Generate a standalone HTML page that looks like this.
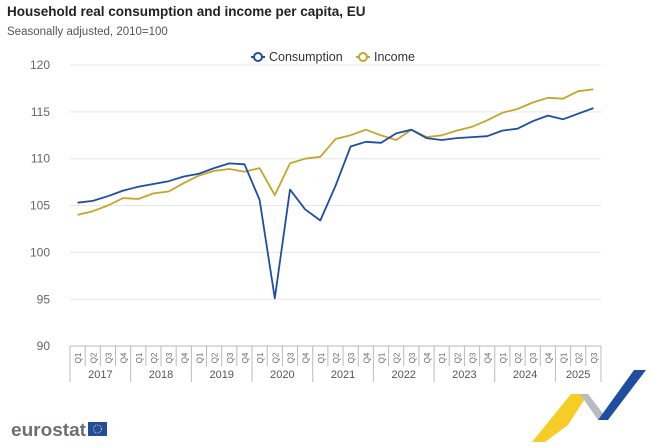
<!DOCTYPE html>
<html><head><meta charset="utf-8"><style>
body{margin:0;background:#fff;width:650px;height:442px;overflow:hidden;font-family:"Liberation Sans",sans-serif}
</style></head><body>
<svg id="s" width="650" height="442" xmlns="http://www.w3.org/2000/svg" font-family="Liberation Sans, sans-serif">
<text x="7" y="16" font-size="13.5" font-weight="bold" fill="#222">Household real consumption and income per capita, EU</text>
<text x="7" y="35" font-size="11.5" fill="#555">Seasonally adjusted, 2010=100</text>
<g font-size="12.5" fill="#333">
<line x1="251" y1="57" x2="265" y2="57" stroke="#1f4ea1" stroke-width="2"/><circle cx="258" cy="57" r="4" fill="#fff" stroke="#1f4ea1" stroke-width="2"/>
<text x="269" y="61">Consumption</text>
<line x1="356" y1="57" x2="370" y2="57" stroke="#c6a52b" stroke-width="2"/><circle cx="363" cy="57" r="4" fill="#fff" stroke="#c6a52b" stroke-width="2"/>
<text x="374" y="61">Income</text>
</g>
<g id="g"></g>
<text x="11" y="436" font-size="18.5" font-weight="bold" fill="#6b6f74" textLength="75" lengthAdjust="spacingAndGlyphs">eurostat</text>
<rect x="88" y="422" width="19" height="14" fill="#1f4ea1"/>
<circle cx="97.5" cy="429" r="4" fill="none" stroke="#f2d23a" stroke-width="1" stroke-dasharray="1 1"/>
<polygon points="571,394 588,394 568,425 545,442 532,442" fill="#f5c400" opacity="0.85"/>
<polygon points="580,394 588,394 608,420 598,420" fill="#b8bcc2"/>
<polygon points="598,420 608,420 646,370 634,370" fill="#1f4ea1"/>
</svg>
<script>
var g=document.getElementById('g'),h='';
function Y(v){return 65+(120-v)*9.37}
var ticks=[120,115,110,105,100,95,90];
ticks.forEach(function(t){var y=Y(t);
if(t>90)h+='<line x1="70" x2="601" y1="'+y+'" y2="'+y+'" stroke="#e6e6e6"/>';
h+='<text x="50" y="'+(y+4)+'" font-size="12" fill="#666" text-anchor="end">'+t+'</text>';});
var x0=70,q=15.17;
h+='<line x1="70" x2="601" y1="346" y2="346" stroke="#bbb"/>';
for(var i=0;i<35;i++){var x=x0+q*i;
h+='<line x1="'+x+'" x2="'+x+'" y1="346" y2="'+(i%4==0?382:366)+'" stroke="#bbb"/>';
h+='<text transform="translate('+(x+q/2+3.5)+',358) rotate(-90)" font-size="8" fill="#666" text-anchor="middle">Q'+(i%4+1)+'</text>';}
h+='<line x1="601" x2="601" y1="346" y2="382" stroke="#bbb"/>';
for(var yr=0;yr<9;yr++){var x=x0+q*4*yr+(yr==8?q*1.5:q*2);
h+='<text x="'+x+'" y="378" font-size="11" fill="#555" text-anchor="middle">'+(2017+yr)+'</text>';}
var c=[105.3,105.5,106.0,106.6,107.0,107.3,107.6,108.1,108.4,109.0,109.5,109.4,105.6,95.1,106.7,104.6,103.4,107.1,111.3,111.8,111.7,112.7,113.1,112.2,112.0,112.2,112.3,112.4,113.0,113.2,114.0,114.6,114.2,114.8,115.4];
var n=[104.0,104.4,105.0,105.8,105.7,106.3,106.5,107.4,108.2,108.7,108.9,108.6,109.0,106.1,109.5,110.0,110.2,112.1,112.5,113.1,112.5,112.0,113.1,112.3,112.5,113.0,113.4,114.1,114.9,115.3,116.0,116.5,116.4,117.2,117.4];
function P(a,col){return '<polyline fill="none" stroke="'+col+'" stroke-width="1.8" stroke-linejoin="round" points="'+a.map(function(v,i){return (x0+q*(i+0.5)).toFixed(1)+','+Y(v).toFixed(1)}).join(' ')+'"/>'}
h+=P(n,'#c6a52b')+P(c,'#1f4ea1');
g.innerHTML=h;
</script>
</body></html>
